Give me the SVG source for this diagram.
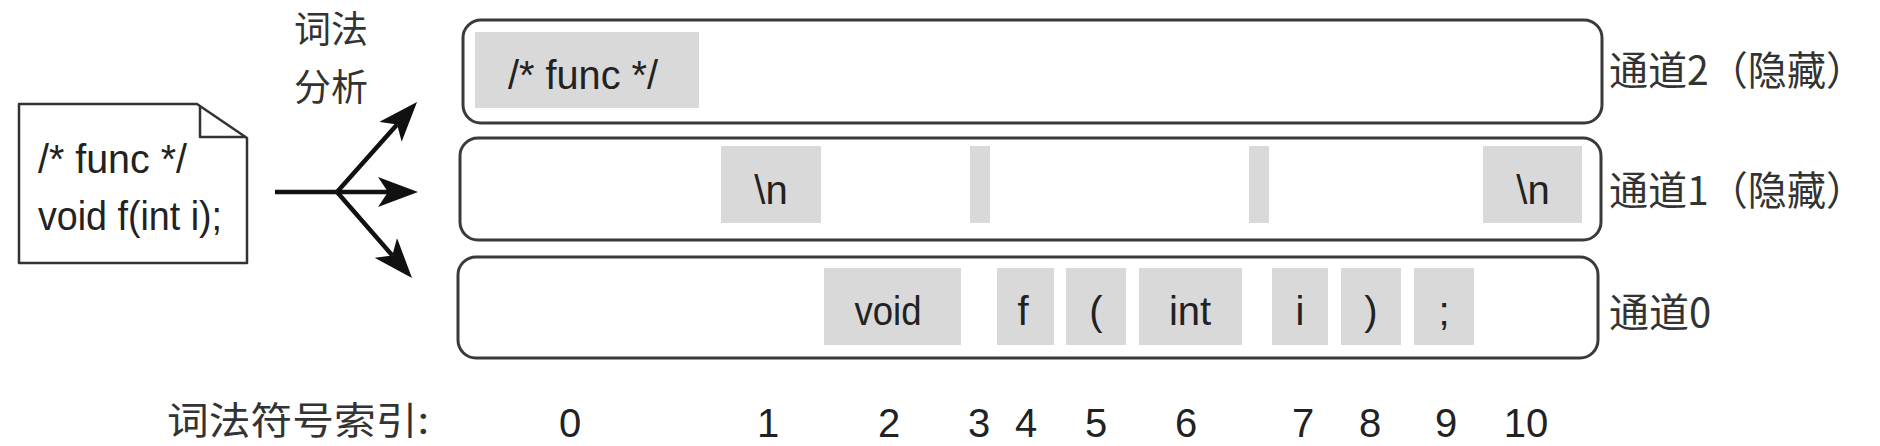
<svg xmlns="http://www.w3.org/2000/svg" width="1880" height="446" viewBox="0 0 1880 446">
<style>
.chan{fill:#fff;stroke:#3a3a3a;stroke-width:3}
.tok{fill:#d9d9d9}
.tt{font-family:"Liberation Sans",Arial,sans-serif;font-size:40px;fill:#222;text-anchor:middle}
.cjk{font-family:"Noto Sans CJK SC","Noto Sans",sans-serif;font-size:40px;fill:#333}
.num{font-family:"Liberation Sans",Arial,sans-serif;font-size:40px;fill:#222;text-anchor:middle}
.doc{fill:#fff;stroke:#333;stroke-width:2.5;stroke-linejoin:round}
.arr{stroke:#111;stroke-width:4.5;fill:none}
</style>
<defs>
<marker id="ah" markerUnits="userSpaceOnUse" markerWidth="40" markerHeight="30" refX="10" refY="15" orient="auto">
<path d="M0,0 L40,15 L0,30 L10,15 Z" fill="#111"/>
</marker>
</defs>
<rect width="1880" height="446" fill="#fff"/>

<g id="source-doc">
<path class="doc" d="M19,104 L197,104 L247,138 L247,263 L19,263 Z"/>
<path class="doc" d="M200,107 L200,137 L246,137" style="fill:none"/>
<text class="tt" x="38" y="173" style="text-anchor:start" textLength="149" lengthAdjust="spacingAndGlyphs">/* func */</text>
<text class="tt" x="38" y="230" style="text-anchor:start" textLength="184" lengthAdjust="spacingAndGlyphs">void f(int i);</text>
</g>

<g id="lexer-label">
<text class="cjk" x="331" y="43" text-anchor="middle" style="font-size:37px">词法</text>
<text class="cjk" x="331" y="101" text-anchor="middle" style="font-size:37px">分析</text>
</g>

<g id="connectors">
<path class="arr" d="M275,192 L337,192"/>
<path class="arr" d="M337,192 L397.1,124.4" marker-end="url(#ah)"/>
<path class="arr" d="M337,192 L388,192" marker-end="url(#ah)"/>
<path class="arr" d="M337,192 L392.3,255.4" marker-end="url(#ah)"/>
</g>

<g id="channel2">
<rect class="chan" x="463" y="20" width="1139" height="103" rx="18"/>
<rect class="tok" x="475" y="32" width="224" height="76"/>
<text class="tt" x="583" y="89" textLength="150" lengthAdjust="spacingAndGlyphs">/* func */</text>
<text class="cjk" x="1609" y="85" textLength="256" lengthAdjust="spacingAndGlyphs">通道2（隐藏）</text>
</g>

<g id="channel1">
<rect class="chan" x="460" y="138" width="1141" height="102" rx="18"/>
<rect class="tok" x="721" y="146" width="100" height="77"/>
<text class="tt" x="771" y="204">\n</text>
<rect class="tok" x="970" y="146" width="20" height="77"/>
<rect class="tok" x="1249" y="146" width="20" height="77"/>
<rect class="tok" x="1483" y="146" width="99" height="77"/>
<text class="tt" x="1533" y="204">\n</text>
<text class="cjk" x="1609" y="205" textLength="256" lengthAdjust="spacingAndGlyphs">通道1（隐藏）</text>
</g>

<g id="channel0">
<rect class="chan" x="458" y="257" width="1140" height="101" rx="18"/>
<rect class="tok" x="824" y="268" width="137" height="77"/>
<text class="tt" x="888" y="325" textLength="67" lengthAdjust="spacingAndGlyphs">void</text>
<rect class="tok" x="997" y="268" width="57" height="77"/>
<text class="tt" x="1023" y="325">f</text>
<rect class="tok" x="1066" y="268" width="60" height="77"/>
<text class="tt" x="1096" y="325">(</text>
<rect class="tok" x="1139" y="268" width="103" height="77"/>
<text class="tt" x="1190" y="325">int</text>
<rect class="tok" x="1272" y="268" width="56" height="77"/>
<text class="tt" x="1300" y="325">i</text>
<rect class="tok" x="1341" y="268" width="60" height="77"/>
<text class="tt" x="1371" y="325">)</text>
<rect class="tok" x="1414" y="268" width="60" height="77"/>
<text class="tt" x="1444" y="325">;</text>
<text class="cjk" x="1609" y="327">通道0</text>
</g>

<g id="token-index">
<text class="cjk" x="167" y="434" style="font-size:38px" textLength="262" lengthAdjust="spacingAndGlyphs">词法符号索引:</text>
<text class="num" x="570" y="437">0</text>
<text class="num" x="768" y="437">1</text>
<text class="num" x="889" y="437">2</text>
<text class="num" x="979" y="437">3</text>
<text class="num" x="1026" y="437">4</text>
<text class="num" x="1096" y="437">5</text>
<text class="num" x="1186" y="437">6</text>
<text class="num" x="1303" y="437">7</text>
<text class="num" x="1370" y="437">8</text>
<text class="num" x="1446" y="437">9</text>
<text class="num" x="1526" y="437">10</text>
</g>
</svg>
